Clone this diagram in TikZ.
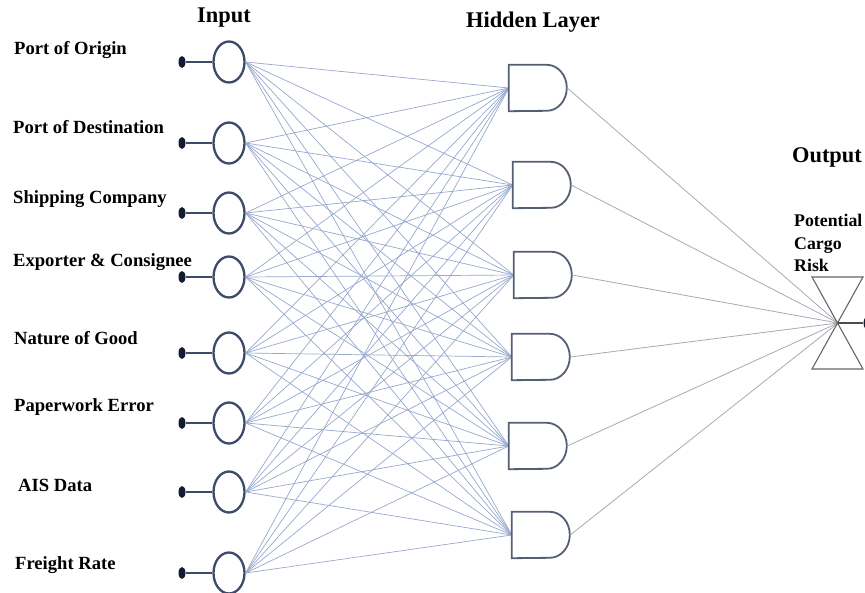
\documentclass[tikz,border=0pt]{standalone}
\usepackage{fontspec}
\setmainfont{Liberation Serif}
\usetikzlibrary{shapes.geometric}

\definecolor{linkblue}{RGB}{150,168,205}
\definecolor{gateline}{RGB}{85,95,115}
\definecolor{inline}{RGB}{60,75,105}
\definecolor{outlink}{RGB}{165,170,182}
\definecolor{pindark}{RGB}{20,28,48}

\begin{document}
\begin{tikzpicture}[
        x=1pt, y=-1pt,
        neuron/.style={ellipse, draw=inline, line width=2.3pt, minimum width=31pt, minimum height=41pt, inner sep=0pt, fill=white},
        pin/.style={ellipse, fill=pindark, minimum width=7pt, minimum height=12pt, inner sep=0pt},
        gate/.style={rectangle, minimum width=58pt, minimum height=46pt, inner sep=0pt},
        feat/.style={anchor=west, inner sep=0pt, font=\fontsize{18.6}{22.5}\selectfont\bfseries},
        head/.style={inner sep=0pt, font=\fontsize{22.4}{26}\selectfont\bfseries},
        link/.style={draw=linkblue, line width=0.7pt}
    ]
    \useasboundingbox (0,0) rectangle (865,592);

    % Titoli
    \node[head] (tin)  at (224,18)  {Input};
    \node[head] (thid) at (533,22)  {Hidden Layer};
    \node[head] (tout) at (827,157) {Output};

    % Ingressi
    \node[feat] (f1) at (14,50)  {Port of Origin};
    \node[feat] (f2) at (13,127) {Port of Destination};
    \node[feat] (f3) at (13,199) {Shipping Company};
    \node[feat] (f4) at (13,262) {Exporter \& Consignee};
    \node[feat] (f5) at (14,338) {Nature of Good};
    \node[feat] (f6) at (14,407) {Paperwork Error};
    \node[feat] (f7) at (18,485) {AIS Data};
    \node[feat] (f8) at (15,565) {Freight Rate};

    \node[neuron] (i1) at (229,62)  {};
    \node[neuron] (i2) at (229,143) {};
    \node[neuron] (i3) at (229,213) {};
    \node[neuron] (i4) at (229,277) {};
    \node[neuron] (i5) at (229,353) {};
    \node[neuron] (i6) at (229,423) {};
    \node[neuron] (i7) at (229,492) {};
    \node[neuron] (i8) at (229,573) {};

    \foreach \k in {1,...,8} {
        \node[pin] (p\k) at (182,0 |- i\k) {};
        \draw[inline, line width=1.2pt] (p\k) -- (i\k.west);
    }

    % Strato nascosto
    \node[gate] (h1) at (538,88)  {};
    \node[gate] (h2) at (542,185) {};
    \node[gate] (h3) at (543,275) {};
    \node[gate] (h4) at (541,357) {};
    \node[gate] (h5) at (538,446) {};
    \node[gate] (h6) at (541,535) {};

    % Collegamenti ingresso -> nascosto
    \foreach \k in {1,...,8}
        \foreach \g in {1,...,6}
            \draw[link] (i\k.east) -- (h\g.west);

    \foreach \g in {1,...,6}
        \draw[gateline, line width=1.8pt, fill=white] (h\g.north west) -- ++(38,0)
            arc[start angle=90, end angle=-90, x radius=20pt, y radius=23pt] -- (h\g.south west) -- cycle;

    % Uscita
    \coordinate (out) at (838,323);
    \node[pin, minimum width=11pt, minimum height=15pt] (opin) at (869,323) {};
    \foreach \g in {1,...,6}
        \draw[outlink, line width=0.8pt] (h\g.east) -- (out);
    \draw[black!60, line width=1.1pt] (out) ++(-26,-46) -- ++(51,92) -- ++(-51,0) -- ++(51,-92) -- cycle;
    \draw[black!70, line width=1.1pt] (out) -- (opin);

    \node[anchor=west, align=left, inner sep=0pt, font=\fontsize{17.8}{22.5}\selectfont\bfseries] (risk) at (794,243) {Potential\\Cargo\\Risk};

\end{tikzpicture}
\end{document}
